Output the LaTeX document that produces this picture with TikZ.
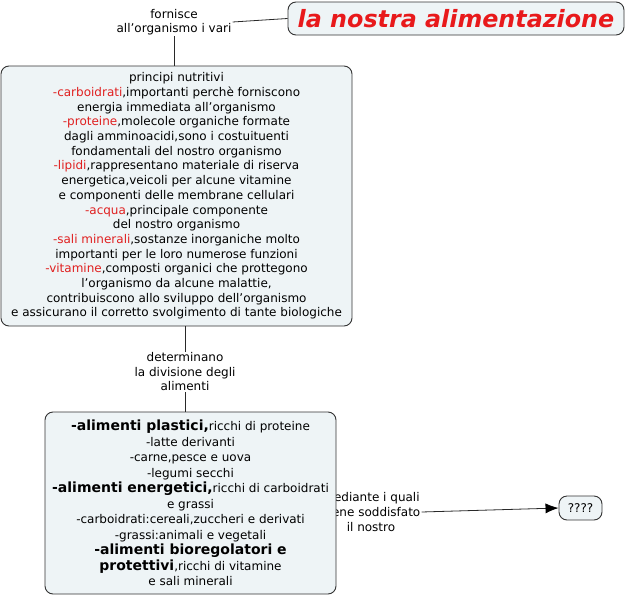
\documentclass[tikz,border=0pt]{standalone}
\usepackage{fontspec}
\setmainfont{DejaVu Sans}
\usetikzlibrary{arrows.meta}
\definecolor{boxfill}{HTML}{EEF4F6}
\definecolor{boxline}{HTML}{333333}
\definecolor{tred}{HTML}{E8191B}
\definecolor{lred}{HTML}{E02020}
\tikzset{
  cbox/.style={draw=boxline, line width=0.9pt, fill=boxfill, rounded corners=8pt, inner sep=0pt, align=center},
  lbl/.style={inner sep=1pt, align=center, font=\fontsize{12}{14.5}\selectfont},
  conn/.style={draw=boxline!80!black, line width=0.8pt},
}
\newcommand{\rd}[1]{\textcolor{lred}{#1}}
\newcommand{\bg}[1]{{\fontsize{14}{15.5}\selectfont\bfseries #1}}
\begin{document}
\begin{tikzpicture}[x=1pt,y=-1pt]
\useasboundingbox (0,0) rectangle (629,597);
\node[cbox, minimum width=336pt, minimum height=33pt, font=\fontsize{23.8}{26}\selectfont\bfseries\itshape, text=tred] (title) at (456,18.5) {la nostra alimentazione};
\node[lbl, font=\fontsize{12}{14}\selectfont] (lab1) at (174,22) {fornisce\\all'organismo i vari};
\node[cbox, minimum width=351pt, minimum height=260pt, font=\fontsize{12}{14.7}\selectfont] (main) at (176.5,196) {principi nutritivi\\
\rd{-carboidrati},importanti perchè forniscono\\
energia immediata all'organismo\\
\rd{-proteine},molecole organiche formate\\
dagli amminoacidi,sono i costuituenti\\
fondamentali del nostro organismo\\
\rd{-lipidi},rappresentano materiale di riserva\\
energetica,veicoli per alcune vitamine\\
e componenti delle membrane cellulari\\
\rd{-acqua},principale componente\\
del nostro organismo\\
\rd{-sali minerali},sostanze inorganiche molto\\
importanti per le loro numerose funzioni\\
\rd{-vitamine},composti organici che prottegono\\
l'organismo da alcune malattie,\\
contribuiscono allo sviluppo dell'organismo\\
e assicurano il corretto svolgimento di tante biologiche};
\node[lbl] (lab2) at (185,372) {determinano\\la divisione degli\\alimenti};
\node[lbl, font=\fontsize{12}{15}\selectfont] (lab3) at (371,512) {mediante i quali\\viene soddisfato\\il nostro};
\node[cbox, minimum width=291pt, minimum height=182pt, font=\fontsize{12}{15.5}\selectfont] (box2) at (190.5,503) {\bg{-alimenti plastici,}ricchi di proteine\\
-latte derivanti\\
-carne,pesce e uova\\
-legumi secchi\\
\bg{-alimenti energetici,}ricchi di carboidrati\\
e grassi\\
-carboidrati:cereali,zuccheri e derivati\\
-grassi:animali e vegetali\\
\bg{-alimenti bioregolatori e}\\
\bg{protettivi},ricchi di vitamine\\
e sali minerali};
\node[cbox, minimum width=43pt, minimum height=24pt, font=\fontsize{12}{14}\selectfont] (q) at (580.5,508) {????};
\draw[conn] (lab1.east) -- (title.west);
\draw[conn] (lab1.south) -- (lab1.south |- main.north);
\draw[conn] (lab2.north) -- (lab2.north |- main.south);
\draw[conn] (lab2.south) -- (lab2.south |- box2.north);
\draw[conn, -{Latex[length=13pt,width=10pt,black]}] (lab3.east) -- (q.west);
\end{tikzpicture}
\end{document}
